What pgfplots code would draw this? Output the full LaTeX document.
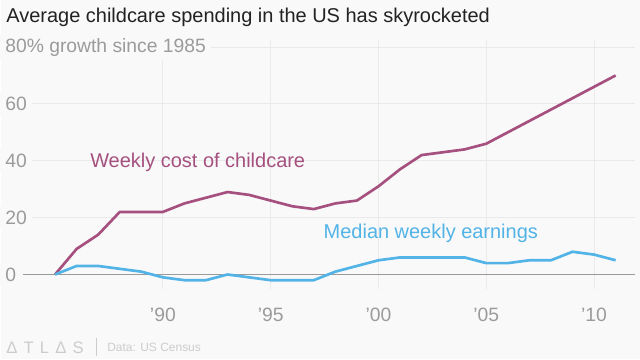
\documentclass[border=0pt]{standalone}
\usepackage{fontspec}
\setmainfont{Liberation Sans}
\usepackage{pgfplots}
\pgfplotsset{compat=1.18}
\definecolor{bg}{HTML}{F9F9F9}
\definecolor{gridc}{HTML}{EAEAEA}
\definecolor{zeroc}{HTML}{9A9A9A}
\definecolor{tickc}{HTML}{9B9B9B}
\definecolor{titlec}{HTML}{222222}
\definecolor{cpurple}{HTML}{A5507F}
\definecolor{cblue}{HTML}{52B3E6}
\definecolor{footc}{HTML}{CCCCCC}
\begin{document}
\begin{tikzpicture}
\fill[bg] (0pt,0pt) rectangle (480pt,270pt);
\node[anchor=west, inner sep=0, text=titlec, font=\fontsize{15}{17}\selectfont] at (3.75pt,257.25pt) {Average childcare spending in the US has skyrocketed};
\begin{axis}[
  at={(16.5pt,52.5pt)}, anchor=south west,
  scale only axis, width=459.75pt, height=187.5pt,
  xmin=1983.52, xmax=2011.9, ymin=-5.26, ymax=82.5,
  axis line style={draw=none},
  xtick={1990,1995,2000,2005,2010},
  xticklabels={'90,'95,'00,'05,'10},
  ytick={0,20,40,60,80},
  yticklabels={0,20,40,60,{80\% growth since 1985}},
  xmajorgrids, ymajorgrids,
  grid style={gridc, line width=0.75pt},
  major tick length=0pt,
  tick label style={font=\fontsize{14.5}{16}\selectfont, text=tickc},
  yticklabel style={anchor=west, xshift=-17.6pt, fill=bg, inner xsep=4pt},
  xticklabel style={anchor=center, yshift=-19pt},
  clip=false,
]
\addplot[draw=zeroc, line width=0.9pt, forget plot] coordinates {(1983.52,0) (2011.9,0)};
\addplot[cpurple, line width=2pt, line join=round] coordinates {
(1985,0) (1986,9) (1987,14) (1988,22) (1989,22) (1990,22) (1991,25) (1992,27) (1993,29) (1994,28)
(1995,26) (1996,24) (1997,23) (1998,25) (1999,26) (2000,31) (2001,37) (2002,42) (2003,43) (2004,44)
(2005,46) (2006,50) (2007,54) (2008,58) (2009,62) (2010,66) (2011,70)};
\addplot[cblue, line width=2pt, line join=round] coordinates {
(1985,0) (1986,3) (1987,3) (1988,2) (1989,1) (1990,-1) (1991,-2) (1992,-2) (1993,0) (1994,-1)
(1995,-2) (1996,-2) (1997,-2) (1998,1) (1999,3) (2000,5) (2001,6) (2002,6) (2003,6) (2004,6)
(2005,4) (2006,4) (2007,5) (2008,5) (2009,8) (2010,7) (2011,5)};
\node[anchor=west, inner sep=0, text=cpurple, font=\fontsize{15}{17}\selectfont] at (axis cs:1986.62,39.6) {Weekly cost of childcare};
\node[anchor=west, inner sep=0, text=cblue, font=\fontsize{15}{17}\selectfont] at (axis cs:1997.45,14.4) {Median weekly earnings};
\end{axis}
\node[anchor=west, inner sep=0, text=footc, font=\fontsize{12.5}{14}\selectfont] at (3.75pt,9pt) {Δ\hspace{4.6pt}T\hspace{4.6pt}L\hspace{4.6pt}Δ\hspace{4.6pt}S};
\draw[footc, line width=0.6pt] (71.25pt,2.25pt) -- (71.25pt,15.75pt);
\node[anchor=west, inner sep=0, text=footc, font=\fontsize{9}{11}\selectfont] at (79.5pt,9pt) {Data: US Census};
\end{tikzpicture}
\end{document}
